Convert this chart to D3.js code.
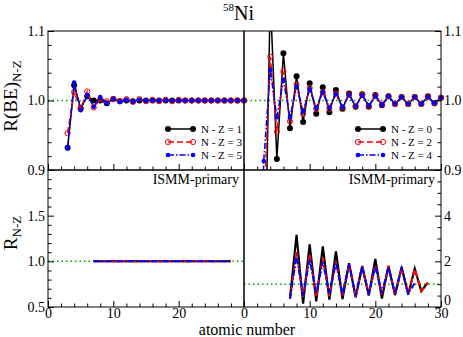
<!DOCTYPE html>
<html>
<head>
<meta charset="utf-8">
<script src="https://cdn.jsdelivr.net/npm/d3@7"></script>
<style>
  body { margin: 0; background: #fff; }
  svg { display: block; }
</style>
</head>
<body>
<div id="chart"></div>
<script>
// Z values for each panel
var zTop = d3.range(3, 31);          // 3..30
var zTopBlue = d3.range(2, 31);      // 2..30
var zBot = d3.range(7, 29);          // 7..28
var zBotBlue = d3.range(7, 27);      // 7..26

// top-left: R(BE) for N-Z = 1, 3, 5
var rbe1 = [0.932, 1.022, 0.989, 1.006, 1.000, 1.000, 0.996, 1.002, 0.999, 1.000, 0.999, 1.000, 1.000, 1.000,
            1.000, 1.000, 1.000, 1.000, 1.000, 1.000, 1.000, 1.000, 1.000, 1.000, 1.000, 1.000, 1.000, 1.000];
var rbe3 = [0.953, 1.012, 0.988, 1.013, 0.990, 1.002, 0.999, 1.002, 0.999, 1.002, 0.998, 1.002, 0.999, 1.001,
            0.999, 1.001, 0.999, 1.001, 1.000, 1.000, 1.000, 1.000, 1.000, 1.000, 1.000, 1.000, 1.000, 1.000];
var rbe5 = [0.932, 1.026, 0.986, 1.008, 0.991, 1.005, 0.996, 1.002, 0.998, 1.001, 0.999, 1.001, 1.000, 1.000,
            1.000, 1.000, 1.000, 1.000, 1.000, 1.000, 1.000, 1.000, 1.000, 1.000, 1.000, 1.000, 1.000, 1.000];

// top-right: R(BE) for N-Z = 0, 2, 4
var rbe0 = [0.65, 1.15, 0.916, 1.068, 0.960, 1.035, 0.969, 1.025, 0.981, 1.019, 0.983, 1.015, 0.988, 1.010,
            0.991, 1.009, 0.991, 1.008, 0.993, 1.006, 0.995, 1.005, 0.995, 1.005, 0.995, 1.006, 0.996, 1.004];
var rbe2 = [0.84, 1.063, 0.955, 1.042, 0.970, 1.023, 0.981, 1.018, 0.988, 1.012, 0.988, 1.010, 0.990, 1.008,
            0.992, 1.008, 0.992, 1.007, 0.994, 1.006, 0.995, 1.005, 0.995, 1.005, 0.995, 1.005, 0.996, 1.004];
var rbe4 = [0.55, 0.913, 1.044, 0.976, 1.029, 0.976, 1.020, 0.984, 1.016, 0.990, 1.012, 0.990, 1.009, 0.991, 1.008,
            0.992, 1.007, 0.993, 1.006, 0.994, 1.006, 0.995, 1.005, 0.995, 1.005, 0.995, 1.005, 0.996, 1.004];

// bottom-left: R_{N-Z} for N-Z = 1, 3, 5 (all flat)
var r1 = [1, 1, 1, 1, 1, 1, 1, 1, 1, 1, 1, 1, 1, 1, 1, 1, 1, 1, 1, 1, 1, 1];
var r3 = [1, 1, 1, 1, 1, 1, 1, 1, 1, 1, 1, 1, 1, 1, 1, 1, 1, 1, 1, 1, 1, 1];
var r5 = [1, 1, 1, 1, 1, 1, 1, 1, 1, 1, 1, 1, 1, 1, 1, 1, 1, 1, 1, 1, 1, 1];

// bottom-right: R_{N-Z} for N-Z = 0, 2, 4
var r0 = [0.37, 3.16, 0.15, 2.74, 0.25, 2.65, 0.32, 2.44, 0.35, 1.92, 0.42, 1.80, 0.50, 2.10, 0.37, 1.80, 0.52, 1.75, 0.55, 1.68, 0.70, 1.07];
var r2 = [0.37, 2.40, 0.44, 2.30, 0.44, 2.15, 0.48, 2.00, 0.50, 1.90, 0.45, 1.78, 0.52, 1.85, 0.55, 1.80, 0.52, 1.72, 0.58, 1.66, 0.72, 1.07];
var r4 = [0.37, 2.25, 0.50, 2.10, 0.60, 1.98, 0.60, 1.95, 0.55, 1.88, 0.50, 1.78, 0.55, 1.78, 0.60, 1.75, 0.60, 1.70, 0.60, 1.04];

// tick labels
var xTicksLeft = [0, 10, 20];
var xTicksRight = [0, 10, 20, 30];
var yTicksTop = [0.9, 1.0, 1.1];
var yTicksBotLeft = [0.5, 1.0, 1.5];
var yTicksBotRight = [0, 2, 4];

var legendLeft = ["N - Z = 1", "N - Z = 3", "N - Z = 5"];
var legendRight = ["N - Z = 0", "N - Z = 2", "N - Z = 4"];

var svgWidth = 463, svgHeight = 337;
var serif = "'Liberation Serif', 'DejaVu Serif', serif";
var green = "#00a400";

var svg = d3.select("#chart").append("svg")
    .attr("width", svgWidth)
    .attr("height", svgHeight);

// panel geometry
var xL = d3.scaleLinear().domain([0, 30]).range([48, 244]);
var xR = d3.scaleLinear().domain([0, 30]).range([244, 441]);
var yTop = d3.scaleLinear().domain([0.9, 1.1]).range([170, 31]);
var yBL = d3.scaleLinear().domain([0.5, 2.0]).range([307, 170]);
var yBR = d3.scaleLinear().domain([0, 6]).range([307, 170]);

// clip paths (allow markers to overhang horizontally)
var defs = svg.append("defs");
defs.append("clipPath").attr("id", "clipTop")
  .append("rect").attr("x", 40).attr("y", 31).attr("width", 410).attr("height", 139);
defs.append("clipPath").attr("id", "clipBot")
  .append("rect").attr("x", 40).attr("y", 170).attr("width", 410).attr("height", 137);

// series styles
var styles = {
  black: { color: "#000", dash: null, marker: "filled", width: 1.5 },
  red:   { color: "#f00", dash: "6,3", marker: "open", width: 1.5 },
  blue:  { color: "#0000ff", dash: "6,2,1.5,2", marker: "small", width: 1.5 }
};

function drawMarkers(g, pts, st) {
  pts.forEach(function(p) {
    if (st.marker === "filled") {
      g.append("circle").attr("cx", p[0]).attr("cy", p[1]).attr("r", 3).attr("fill", st.color);
    } else if (st.marker === "open") {
      g.append("circle").attr("cx", p[0]).attr("cy", p[1]).attr("r", 2.6)
        .attr("fill", "none").attr("stroke", st.color).attr("stroke-width", 1);
    } else {
      g.append("circle").attr("cx", p[0]).attr("cy", p[1]).attr("r", 2.3).attr("fill", st.color);
    }
  });
}

function drawSeries(g, xs, ys, xScale, yScale, st, markers, lw) {
  var pts = xs.map(function(z, i) { return [xScale(z), yScale(ys[i])]; });
  g.append("path")
    .attr("d", d3.line()(pts))
    .attr("fill", "none")
    .attr("stroke", st.color)
    .attr("stroke-width", lw || st.width)
    .attr("stroke-dasharray", st.dash);
  if (markers) drawMarkers(g, pts, st);
}

// reference lines (green dotted)
function refLine(x0, x1, y) {
  svg.append("line")
    .attr("x1", x0).attr("x2", x1).attr("y1", y).attr("y2", y)
    .attr("stroke", green).attr("stroke-width", 1.5)
    .attr("stroke-dasharray", "1.5,3");
}
refLine(48, 441, yTop(1.0));
refLine(48, 244, yBL(1.0));
refLine(244, 441, yBR(1.0));

// top panels (black first, blue on top)
var gTop = svg.append("g").attr("clip-path", "url(#clipTop)");
drawSeries(gTop, zTop, rbe1, xL, yTop, styles.black, true);
drawSeries(gTop, zTop, rbe3, xL, yTop, styles.red, true);
drawSeries(gTop, zTop, rbe5, xL, yTop, styles.blue, true);
drawSeries(gTop, zTop, rbe0, xR, yTop, styles.black, true);
drawSeries(gTop, zTop, rbe2, xR, yTop, styles.red, true);
drawSeries(gTop, zTopBlue, rbe4, xR, yTop, styles.blue, true);

// bottom panels
var gBot = svg.append("g").attr("clip-path", "url(#clipBot)");
drawSeries(gBot, zBot, r1, xL, yBL, styles.black, false, 2);
drawSeries(gBot, zBot, r3, xL, yBL, styles.red, false, 2);
drawSeries(gBot, zBot, r5, xL, yBL, styles.blue, false, 2);
drawSeries(gBot, zBot, r0, xR, yBR, styles.black, false, 2.2);
drawSeries(gBot, zBot, r2, xR, yBR, styles.red, false, 2);
drawSeries(gBot, zBotBlue, r4, xR, yBR, styles.blue, false, 2);

// frames
[[48, 31, 196, 139], [244, 31, 197, 139], [48, 170, 196, 137], [244, 170, 197, 137]].forEach(function(r) {
  svg.append("rect").attr("x", r[0]).attr("y", r[1]).attr("width", r[2]).attr("height", r[3])
    .attr("fill", "none").attr("stroke", "#000").attr("stroke-width", 1);
});

// axes helper
function addAxis(axisFn, scale, translate, majors, minors, fmt, labels, pad) {
  var g = svg.append("g").attr("transform", translate)
    .call(axisFn(scale).tickValues(majors).tickSizeInner(-6).tickSizeOuter(0).tickPadding(pad || 3)
      .tickFormat(function(d) { return labels && labels.indexOf(d) >= 0 ? fmt(d) : ""; }));
  g.call(function(s) { s.select(".domain").remove(); });
  g.attr("font-family", serif).attr("font-size", 14);
  g.selectAll("text").attr("fill", "#000")
    .filter(function() { return this.textContent === ""; }).remove();
  var gm = svg.append("g").attr("transform", translate)
    .call(axisFn(scale).tickValues(minors).tickSizeInner(-3.5).tickSizeOuter(0).tickFormat(""));
  gm.select(".domain").remove();
  gm.selectAll("text").remove();
  return g;
}

var fmt1 = d3.format(".1f"), fmt0 = d3.format("d");
var xMajor = [0, 10, 20, 30];
var xMinor = d3.range(0, 31, 2).filter(function(d) { return d % 10 !== 0; });

addAxis(d3.axisBottom, xL, "translate(0,170)", xMajor, xMinor, fmt0, null);
addAxis(d3.axisBottom, xR, "translate(0,170)", xMajor, xMinor, fmt0, null);
addAxis(d3.axisBottom, xL, "translate(0,307)", xMajor, xMinor, fmt0, xTicksLeft, 1.5);
addAxis(d3.axisBottom, xR, "translate(0,307)", xMajor, xMinor, fmt0, xTicksRight, 1.5);

var topMinor = [0.92, 0.94, 0.96, 0.98, 1.02, 1.04, 1.06, 1.08];
addAxis(d3.axisLeft, yTop, "translate(48,0)", [0.9, 1.0, 1.1], topMinor, fmt1, yTicksTop);
addAxis(d3.axisRight, yTop, "translate(441,0)", [0.9, 1.0, 1.1], topMinor, fmt1, yTicksTop);

var blMinor = [0.6, 0.7, 0.8, 0.9, 1.1, 1.2, 1.3, 1.4, 1.6, 1.7, 1.8, 1.9];
addAxis(d3.axisLeft, yBL, "translate(48,0)", [0.5, 1.0, 1.5, 2.0], blMinor, fmt1, yTicksBotLeft);
var brMinor = [0.5, 1, 1.5, 2.5, 3, 3.5, 4.5, 5, 5.5];
var brAxis = addAxis(d3.axisRight, yBR, "translate(441,0)", [0, 2, 4, 6], brMinor, fmt0, yTicksBotRight);
// lift the "0" so it clears the "30" below
brAxis.selectAll("text").filter(function(d) { return d === 0; }).attr("dy", "-0.2em");

// legends
function legend(x, y0, labels, keys) {
  labels.forEach(function(lab, i) {
    var y = y0 + i * 13;
    var st = styles[keys[i]];
    svg.append("line").attr("x1", x).attr("x2", x + 25).attr("y1", y).attr("y2", y)
      .attr("stroke", st.color).attr("stroke-width", 1.5).attr("stroke-dasharray", st.dash);
    drawMarkers(svg, [[x, y], [x + 25, y]], st);
    svg.append("text").attr("x", x + 33).attr("y", y + 3.5)
      .attr("font-family", serif).attr("font-size", 11).text(lab);
  });
}
legend(168, 129, legendLeft, ["black", "red", "blue"]);
legend(358, 129, legendRight, ["black", "red", "blue"]);

// panel annotations
svg.append("text").attr("x", 239).attr("y", 184).attr("text-anchor", "end")
  .attr("font-family", serif).attr("font-size", 14).text("ISMM-primary");
svg.append("text").attr("x", 435).attr("y", 184).attr("text-anchor", "end")
  .attr("font-family", serif).attr("font-size", 14).text("ISMM-primary");

// title
var title = svg.append("text").attr("x", 223).attr("y", 11).attr("font-family", serif);
title.append("tspan").attr("font-size", 11).text("58");
title.append("tspan").attr("font-size", 20).attr("dy", 9).text("Ni");

// axis titles
var yl1 = svg.append("text").attr("transform", "translate(17,96) rotate(-90)")
  .attr("text-anchor", "middle").attr("font-family", serif).attr("font-size", 19);
yl1.append("tspan").text("R(BE)");
yl1.append("tspan").attr("font-size", 13).attr("dy", 4).text("N-Z");

var yl2 = svg.append("text").attr("transform", "translate(17,233) rotate(-90)")
  .attr("text-anchor", "middle").attr("font-family", serif).attr("font-size", 19);
yl2.append("tspan").text("R");
yl2.append("tspan").attr("font-size", 13).attr("dy", 4).text("N-Z");

svg.append("text").attr("x", 247).attr("y", 335).attr("text-anchor", "middle")
  .attr("font-family", serif).attr("font-size", 16).text("atomic number");
</script>
</body>
</html>
